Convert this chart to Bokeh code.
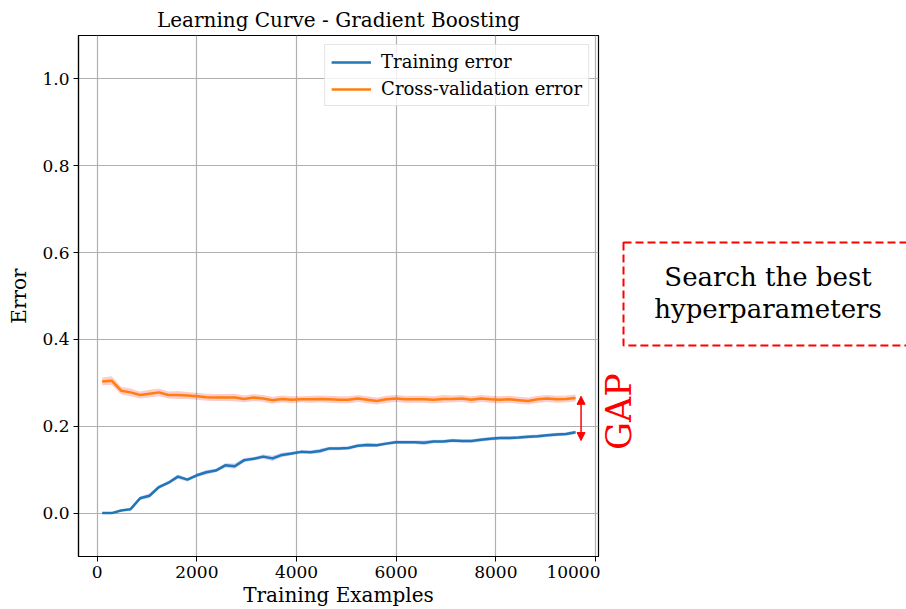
import math

from bokeh.embed import file_html
from bokeh.layouts import row
from bokeh.models import (Arrow, ColumnDataSource, FixedTicker, Legend,
                          LegendItem, NormalHead, NumeralTickFormatter, Range1d)
from bokeh.plotting import figure
from bokeh.resources import INLINE

FONT = "DejaVu Serif"

# Learning-curve results: mean error and spread per training-set size
train_sizes = [100, 290, 480, 670, 860, 1050, 1240, 1430, 1620, 1810,
               2000, 2190, 2380, 2570, 2760, 2950, 3140, 3330, 3520, 3710,
               3900, 4090, 4280, 4470, 4660, 4850, 5040, 5230, 5420, 5610,
               5800, 5990, 6180, 6370, 6560, 6750, 6940, 7130, 7320, 7510,
               7700, 7890, 8080, 8270, 8460, 8650, 8840, 9030, 9220, 9410,
               9600]

train_error = [0.000, 0.000, 0.006, 0.009, 0.034, 0.040, 0.060, 0.070, 0.084, 0.077,
               0.087, 0.094, 0.098, 0.110, 0.108, 0.122, 0.125, 0.130, 0.126, 0.134,
               0.137, 0.141, 0.140, 0.143, 0.149, 0.149, 0.150, 0.155, 0.157, 0.156,
               0.160, 0.163, 0.163, 0.163, 0.162, 0.165, 0.165, 0.167, 0.166, 0.166,
               0.169, 0.171, 0.173, 0.173, 0.174, 0.176, 0.177, 0.179, 0.181, 0.182,
               0.186]

train_std = [0.000, 0.001, 0.002, 0.003, 0.004, 0.005, 0.004, 0.004, 0.005, 0.004,
             0.004, 0.005, 0.004, 0.005, 0.006, 0.005, 0.004, 0.005, 0.006, 0.005,
             0.004, 0.004, 0.004, 0.005, 0.004, 0.004, 0.004, 0.004, 0.005, 0.004,
             0.004, 0.004, 0.004, 0.004, 0.005, 0.004, 0.004, 0.004, 0.004, 0.004,
             0.004, 0.004, 0.004, 0.004, 0.004, 0.004, 0.004, 0.004, 0.004, 0.004,
             0.004]

cv_error = [0.303, 0.305, 0.282, 0.278, 0.272, 0.275, 0.278, 0.272, 0.272, 0.271,
            0.269, 0.267, 0.266, 0.266, 0.266, 0.263, 0.266, 0.264, 0.260, 0.263,
            0.261, 0.262, 0.262, 0.263, 0.262, 0.261, 0.261, 0.264, 0.261, 0.258,
            0.262, 0.264, 0.262, 0.262, 0.262, 0.261, 0.263, 0.263, 0.264, 0.261,
            0.264, 0.262, 0.261, 0.262, 0.260, 0.258, 0.262, 0.264, 0.262, 0.263,
            0.265]

cv_std = [0.009, 0.010, 0.009, 0.009, 0.008, 0.009, 0.009, 0.008, 0.009, 0.008,
          0.008, 0.008, 0.008, 0.008, 0.009, 0.008, 0.008, 0.008, 0.008, 0.008,
          0.008, 0.007, 0.008, 0.008, 0.008, 0.008, 0.008, 0.008, 0.008, 0.008,
          0.008, 0.008, 0.008, 0.008, 0.008, 0.008, 0.009, 0.008, 0.008, 0.008,
          0.008, 0.008, 0.008, 0.008, 0.008, 0.008, 0.008, 0.008, 0.008, 0.008,
          0.008]

x_ticks = [0, 2000, 4000, 6000, 8000, 10000]
y_ticks = [0.0, 0.2, 0.4, 0.6, 0.8, 1.0]

# Gap arrow (data units of the main chart)
GAP_X = 9710
GAP_LOW, GAP_HIGH = 0.167, 0.269

# Side panel annotations: x in panel pixels, y in the chart's error units
gap_text = ["GAP"]
gap_x, gap_y = [18.5], [0.234]
note_lines = ["Search the best", "hyperparameters"]
note_x, note_y = [167.5, 167.5], [0.543, 0.469]
note_box = dict(left=23, right=320, top=0.623, bottom=0.386)

source = ColumnDataSource(data=dict(
    size=train_sizes,
    train=train_error,
    train_lo=[m - s for m, s in zip(train_error, train_std)],
    train_hi=[m + s for m, s in zip(train_error, train_std)],
    cv=cv_error,
    cv_lo=[m - s for m, s in zip(cv_error, cv_std)],
    cv_hi=[m + s for m, s in zip(cv_error, cv_std)],
))

p = figure(width=600, height=609, output_backend="svg", toolbar_location=None,
           x_range=Range1d(-375, 10060), y_range=Range1d(-0.1, 1.1),
           min_border_left=78, min_border_right=2,
           min_border_top=35, min_border_bottom=53,
           title="Learning Curve - Gradient Boosting")

p.background_fill_color = "white"
p.border_fill_color = "white"
p.outline_line_color = "black"
p.outline_line_width = 1.2

p.title.align = "center"
p.title.text_font = FONT
p.title.text_font_size = "20px"
p.title.text_font_style = "normal"
p.title.text_color = "black"
p.title.standoff = 8

# spread bands first, lines on top
p.varea(x="size", y1="train_lo", y2="train_hi", source=source,
        fill_color="blue", fill_alpha=0.2)
p.varea(x="size", y1="cv_lo", y2="cv_hi", source=source,
        fill_color="red", fill_alpha=0.2)
r_train = p.line(x="size", y="train", source=source,
                 line_color="#1f77b4", line_width=2.5)
r_cv = p.line(x="size", y="cv", source=source,
              line_color="#ff7f0e", line_width=2.5)

for ax in (p.xaxis[0], p.yaxis[0]):
    ax.major_label_text_font = FONT
    ax.major_label_text_font_size = "17px"
    ax.major_label_text_color = "black"
    ax.axis_label_text_font = FONT
    ax.axis_label_text_font_size = "20px"
    ax.axis_label_text_font_style = "normal"
    ax.axis_label_text_color = "black"
    ax.axis_line_color = "black"
    ax.axis_line_width = 1.2
    ax.major_tick_in = 0
    ax.major_tick_out = 5
    ax.major_tick_line_color = "black"
    ax.minor_tick_line_color = None
    ax.major_label_standoff = 4

p.xaxis[0].ticker = FixedTicker(ticks=x_ticks)
p.yaxis[0].ticker = FixedTicker(ticks=y_ticks)
p.xaxis[0].formatter = NumeralTickFormatter(format="0")
p.yaxis[0].formatter = NumeralTickFormatter(format="0.0")
p.xaxis[0].axis_label = "Training Examples"
p.yaxis[0].axis_label = "Error"
p.xaxis[0].axis_label_standoff = 2
p.yaxis[0].axis_label_standoff = 8

p.xgrid.grid_line_color = "#b0b0b0"
p.ygrid.grid_line_color = "#b0b0b0"
p.xgrid.grid_line_width = 1.2
p.ygrid.grid_line_width = 1.2

legend = Legend(items=[LegendItem(label="Training error", renderers=[r_train]),
                       LegendItem(label="Cross-validation error", renderers=[r_cv])],
                location="top_right")
legend.margin = 9
legend.padding = 6
legend.spacing = 6
legend.glyph_width = 40
legend.glyph_height = 20
legend.label_height = 20
legend.label_standoff = 10
legend.label_text_font = FONT
legend.label_text_font_size = "18px"
legend.label_text_color = "black"
legend.border_line_color = "#cccccc"
legend.border_line_width = 1
legend.background_fill_color = "white"
legend.background_fill_alpha = 0.8
p.add_layout(legend)

# double-headed arrow marking the gap between the two curves
p.add_layout(Arrow(x_start=GAP_X, y_start=GAP_LOW, x_end=GAP_X, y_end=GAP_HIGH,
                   line_color="red", line_width=1.5,
                   start=NormalHead(size=8, fill_color="red", line_color="red"),
                   end=NormalHead(size=8, fill_color="red", line_color="red")))

# side panel with the "GAP" tag and the dashed note box; it shares the
# chart's vertical scale so the tag lines up with the arrow
side = figure(width=306, height=609, output_backend="svg", toolbar_location=None,
              x_range=Range1d(0, 306), y_range=p.y_range,
              x_axis_type=None, y_axis_type=None,
              min_border=0, min_border_left=0, min_border_right=0,
              min_border_top=35, min_border_bottom=53)
side.grid.visible = False
side.outline_line_color = None
side.background_fill_color = "white"
side.border_fill_color = "white"

side.text(x=gap_x, y=gap_y, text=gap_text, angle=math.pi / 2,
          text_align="center", text_baseline="middle",
          text_font={"value": FONT}, text_font_size="35px", text_color="red")

side.quad(left=[note_box["left"]], right=[note_box["right"]],
          top=[note_box["top"]], bottom=[note_box["bottom"]],
          fill_color=None, line_color="red", line_width=2, line_dash="8 4")

side.text(x=note_x, y=note_y, text=note_lines,
          text_align="center", text_baseline="middle",
          text_font={"value": FONT}, text_font_size="26px", text_color="black")

layout = row(p, side)
open("out.html", "w").write(file_html(layout, INLINE))
